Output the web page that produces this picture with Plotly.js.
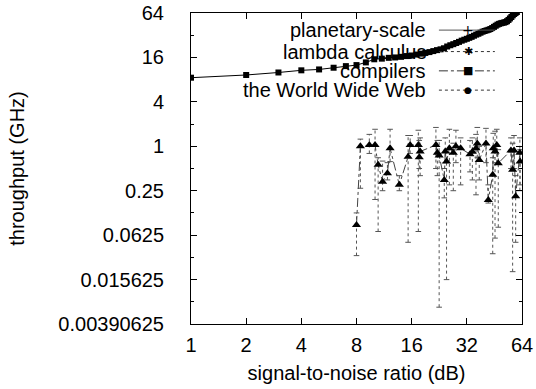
<!DOCTYPE html>
<html>
<head>
<meta charset="utf-8">
<script src="https://cdn.plot.ly/plotly-3.0.1.min.js"></script>
<style>html,body{margin:0;padding:0;background:#fff;}#plot{width:536px;height:389px;}</style>
</head>
<body>
<div id="plot"></div>
<script>
// ---- data ----
const compX = [1,2,3,4,5,6,7,8,9,10,11,12,13,14,15,16,17,18,19,20,21,22,23,24,25,26,27,28,29,30,
  31,32,33,34,35,36,37,38,39,40,41,42,43,44,45,46,47,48,49,50,51,52,53,54,55,56,57,58,59,60];
const compY = [8.5,9.25,10.0,10.7,11.0,11.6,12.2,12.6,13.7,15.1,15.4,15.8,16.0,16.3,16.7,17.0,17.5,18.0,18.4,18.9,
  19.5,20.1,20.6,21.3,22.5,23.4,24.2,25.1,26.0,27.0,27.8,28.6,29.5,30.4,31.5,32.6,33.5,34.6,35.7,36.5,
  37.2,37.9,38.8,40.0,41.5,43.0,44.5,45.6,46.4,47.0,47.5,48.2,49.5,51.5,54.0,56.5,59.5,62.0,64.0,66.0];

const wwwX  = [8.0,8.4,9.4,10.1,10.5,11.1,11.8,12.2,13.7,15.3,15.7,17.4,17.6,17.8,21.7,22.1,22.6,24.1,24.4,24.8,
  25.7,27.0,27.9,29.6,33.3,34.3,35.9,36.5,37.4,40.7,41.9,44.3,44.6,45.6,46.6,47.5,55.7,56.9,57.9,59.1,62.3,62.5];
const wwwY  = [0.086,1.0,1.04,1.04,0.56,0.33,0.43,0.94,0.30,0.72,1.04,1.04,0.71,0.85,1.04,0.82,0.75,0.35,0.85,0.62,
  0.94,0.82,1.0,0.94,0.78,0.84,0.94,1.09,0.65,1.09,0.187,0.41,0.94,0.85,1.04,0.59,0.88,0.48,0.88,0.21,0.82,0.62];
const wwwHi = [0.125,1.25,1.45,1.7,0.7,0.63,0.6,1.7,0.4,1.4,1.4,1.65,1.2,1.3,1.8,1.2,1.2,0.5,1.3,0.9,
  1.7,1.1,1.65,1.3,1.2,1.3,1.45,1.8,1.0,1.75,0.3,0.7,1.5,1.6,1.7,0.9,1.3,1.1,1.4,0.4,1.3,0.9];
const wwwLo = [0.033,0.27,0.8,0.19,0.07,0.25,0.35,0.62,0.25,0.05,0.8,0.07,0.5,0.4,0.5,0.4,0.0066,0.2,0.6,0.0156,
  0.3,0.25,0.6,0.3,0.45,0.35,0.22,0.7,0.35,0.6,0.17,0.035,0.4,0.057,0.6,0.08,0.5,0.02,0.5,0.05,0.25,0.3];

const xTickVals = [1,2,4,8,16,32,64];
const xTickText = ['1','2','4','8','16','32','64'];
const yTickVals = [0.00390625,0.015625,0.0625,0.25,1,4,16,64];
const yTickText = ['0.00390625','0.015625','0.0625','0.25','1','4','16','64'];
const yMinorVals = [0.0078125,0.03125,0.125,0.5,2,8,32];

const legendNames = ['planetary-scale','lambda calculus','compilers','the World Wide Web'];
const legendDash  = ['solid','dot','dashdot','dot'];
const legendGlyph = ['+','✱','■','●'];
const legendGlyphSize = [14,11,11,9];

// ---- build error bar segments from data ----
const ebX = [], ebY = [], capX = [], capY = [];
for (let i = 0; i < wwwX.length; i++) {
  ebX.push(wwwX[i], wwwX[i], null);
  ebY.push(wwwLo[i], wwwHi[i], null);
  capX.push(wwwX[i], wwwX[i]);
  capY.push(wwwLo[i], wwwHi[i]);
}

const FONT = 'Liberation Sans, Arial, Helvetica, sans-serif';

const traces = [
  {x: ebX, y: ebY, mode: 'lines', line: {color: '#555', width: 1, dash: 'dot'}, hoverinfo: 'skip', showlegend: false},
  {x: capX, y: capY, mode: 'markers', marker: {symbol: 'line-ew', size: 4, line: {color: '#555', width: 1}}, hoverinfo: 'skip', showlegend: false},
  {x: wwwX, y: wwwY, mode: 'lines+markers', name: legendNames[3],
   line: {color: '#444', width: 1, dash: 'dashdot'},
   marker: {symbol: 'triangle-up', size: 8, color: '#000'}, showlegend: false},
  {x: compX, y: compY, mode: 'lines+markers', name: legendNames[2],
   line: {color: '#000', width: 1},
   marker: {symbol: 'square', size: 6, color: '#000'}, showlegend: false}
];

// ---- legend (gnuplot style: text right, sample on right) ----
const rowY = [0.945, 0.876, 0.814, 0.752];
const shapes = [], annotations = [];
for (let i = 0; i < legendNames.length; i++) {
  annotations.push({xref: 'paper', yref: 'paper', x: 0.716, y: rowY[i], xanchor: 'right', yanchor: 'middle',
    text: legendNames[i], showarrow: false, font: {family: FONT, size: 20, color: '#000'}});
  shapes.push({type: 'line', xref: 'paper', yref: 'paper', x0: 0.749, x1: 0.918, y0: rowY[i], y1: rowY[i],
    line: {color: i === 0 ? '#555' : '#333', width: 1, dash: legendDash[i]}});
  annotations.push({xref: 'paper', yref: 'paper', x: 0.837, y: rowY[i], xanchor: 'center', yanchor: 'middle',
    text: legendGlyph[i], showarrow: false, font: {family: 'DejaVu Sans', size: legendGlyphSize[i], color: '#000'}});
}

const layout = {
  width: 536, height: 389,
  margin: {l: 191, r: 14, t: 13, b: 65, pad: 0},
  paper_bgcolor: '#fff', plot_bgcolor: '#fff',
  font: {family: FONT, size: 20, color: '#000'},
  showlegend: false,
  xaxis: {
    type: 'log', range: [Math.log10(1), Math.log10(64)],
    tickmode: 'array', tickvals: xTickVals, ticktext: xTickText,
    ticks: 'inside', ticklen: 6, tickwidth: 1, tickcolor: '#000',
    showline: true, linecolor: '#000', linewidth: 1, mirror: 'ticks',
    showgrid: false, zeroline: false, ticklabelstandoff: 3,
    tickfont: {family: FONT, size: 20},
    title: {text: 'signal-to-noise ratio (dB)', font: {family: FONT, size: 20}, standoff: 10}
  },
  yaxis: {
    type: 'log', range: [Math.log10(0.00390625), Math.log10(64)],
    tickmode: 'array', tickvals: yTickVals, ticktext: yTickText,
    ticks: 'inside', ticklen: 6, tickwidth: 1, tickcolor: '#000',
    minor: {tickmode: 'array', tickvals: yMinorVals, ticks: 'inside', ticklen: 3, tickcolor: '#000', showgrid: false},
    showline: true, linecolor: '#000', linewidth: 1, mirror: 'ticks',
    showgrid: false, zeroline: false, ticklabelstandoff: 22,
    tickfont: {family: FONT, size: 20},
    title: {text: 'throughput (GHz)', font: {family: FONT, size: 20}, standoff: 28}
  },
  shapes: shapes,
  annotations: annotations
};

Plotly.newPlot('plot', traces, layout, {displayModeBar: false, staticPlot: true});
</script>
</body>
</html>
